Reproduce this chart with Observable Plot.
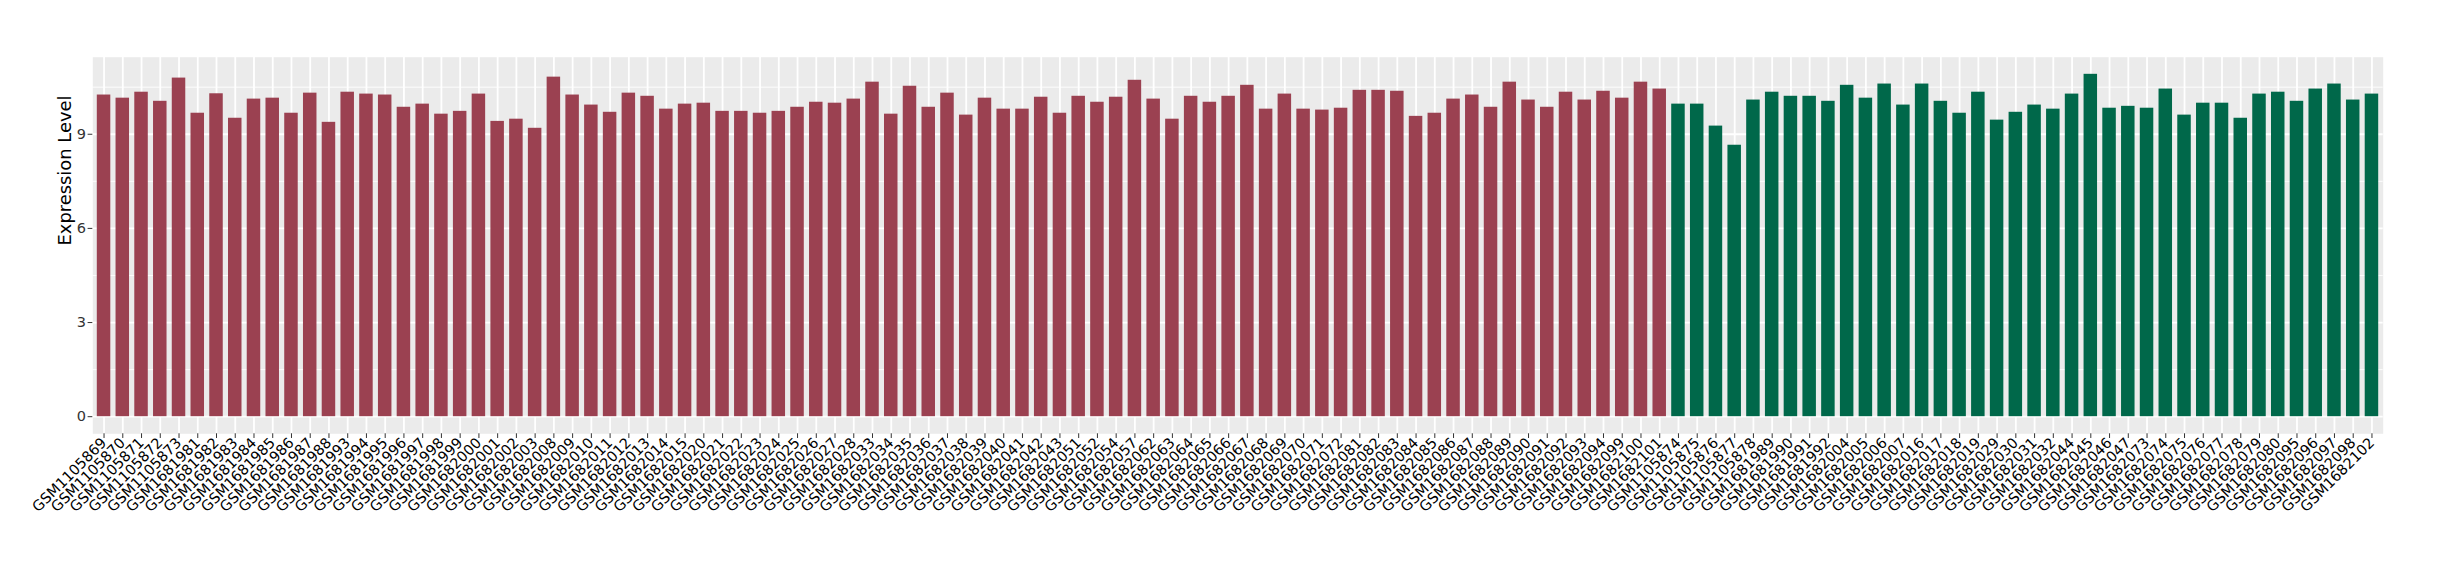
<!DOCTYPE html>
<html><head><meta charset="utf-8">
<script src="https://cdn.jsdelivr.net/npm/d3@7"></script>
<script src="https://cdn.jsdelivr.net/npm/@observablehq/plot@0.6"></script>
<style>body{margin:0;background:#fff}</style>
</head><body><div id="chart"></div>
<script>
const groupA_samples = ["GSM1105869","GSM1105870","GSM1105871","GSM1105872","GSM1105873","GSM1681981","GSM1681982","GSM1681983","GSM1681984","GSM1681985","GSM1681986","GSM1681987","GSM1681988","GSM1681993","GSM1681994","GSM1681995","GSM1681996","GSM1681997","GSM1681998","GSM1681999","GSM1682000","GSM1682001","GSM1682002","GSM1682003","GSM1682008","GSM1682009","GSM1682010","GSM1682011","GSM1682012","GSM1682013","GSM1682014","GSM1682015","GSM1682020","GSM1682021","GSM1682022","GSM1682023","GSM1682024","GSM1682025","GSM1682026","GSM1682027","GSM1682028","GSM1682033","GSM1682034","GSM1682035","GSM1682036","GSM1682037","GSM1682038","GSM1682039","GSM1682040","GSM1682041","GSM1682042","GSM1682043","GSM1682051","GSM1682052","GSM1682054","GSM1682057","GSM1682062","GSM1682063","GSM1682064","GSM1682065","GSM1682066","GSM1682067","GSM1682068","GSM1682069","GSM1682070","GSM1682071","GSM1682072","GSM1682081","GSM1682082","GSM1682083","GSM1682084","GSM1682085","GSM1682086","GSM1682087","GSM1682088","GSM1682089","GSM1682090","GSM1682091","GSM1682092","GSM1682093","GSM1682094","GSM1682099","GSM1682100","GSM1682101"];
const groupA_values = [10.25,10.15,10.34,10.05,10.79,9.67,10.29,9.51,10.12,10.15,9.67,10.31,9.38,10.34,10.28,10.25,9.86,9.96,9.64,9.73,10.28,9.41,9.48,9.19,10.82,10.25,9.93,9.70,10.31,10.21,9.80,9.96,9.99,9.73,9.73,9.67,9.73,9.86,10.02,9.99,10.12,10.66,9.64,10.53,9.86,10.31,9.61,10.15,9.80,9.80,10.18,9.67,10.21,10.02,10.18,10.72,10.12,9.48,10.21,10.02,10.21,10.56,9.80,10.28,9.80,9.77,9.83,10.40,10.40,10.37,9.57,9.67,10.12,10.25,9.86,10.66,10.09,9.86,10.34,10.09,10.37,10.15,10.66,10.44];
const groupB_samples = ["GSM1105874","GSM1105875","GSM1105876","GSM1105877","GSM1105878","GSM1681989","GSM1681990","GSM1681991","GSM1681992","GSM1682004","GSM1682005","GSM1682006","GSM1682007","GSM1682016","GSM1682017","GSM1682018","GSM1682019","GSM1682029","GSM1682030","GSM1682031","GSM1682032","GSM1682044","GSM1682045","GSM1682046","GSM1682047","GSM1682073","GSM1682074","GSM1682075","GSM1682076","GSM1682077","GSM1682078","GSM1682079","GSM1682080","GSM1682095","GSM1682096","GSM1682097","GSM1682098","GSM1682102"];
const groupB_values = [9.96,9.96,9.26,8.65,10.09,10.34,10.21,10.21,10.05,10.56,10.15,10.60,9.93,10.60,10.05,9.67,10.34,9.45,9.70,9.93,9.80,10.28,10.91,9.83,9.89,9.83,10.44,9.61,9.99,9.99,9.51,10.28,10.34,10.05,10.44,10.60,10.09,10.28];
const groupNames = ["A","B"];
const groupColors = ["#9b4151","#00684a"];
const yTicks = [0,3,6,9];
const yMinor = [1.5,4.5,7.5,10.5];
const yTitle = "Expression Level";

const data = [
  ...groupA_samples.map((s,i)=>({sample:s, value:groupA_values[i], group:"A"})),
  ...groupB_samples.map((s,i)=>({sample:s, value:groupB_values[i], group:"B"}))
];
const samples = data.map(d=>d.sample);
const vmax = d3.max(data, d=>d.value);

const chart = Plot.plot({
  width: 2440, height: 580,
  marginLeft: 92.3, marginRight: 57.3, marginTop: 56.7, marginBottom: 146.7,
  style: {fontFamily: "DejaVu Sans", background: "#fff", color: "#333"},
  x: {domain: samples, paddingInner: 0.28, paddingOuter: 0.24, label: null},
  y: {domain: [-0.05*vmax, 1.05*vmax], label: null},
  color: {domain: groupNames, range: groupColors},
  marks: [
    Plot.frame({fill: "#EBEBEB", stroke: null}),
    Plot.gridY(yMinor, {stroke: "#fff", strokeOpacity: 1, strokeWidth: 0.9}),
    Plot.gridY(yTicks, {stroke: "#fff", strokeOpacity: 1, strokeWidth: 1.8}),
    Plot.gridX({stroke: "#fff", strokeOpacity: 1, strokeWidth: 1.8}),
    Plot.barY(data, {x: "sample", y: "value", fill: "group"}),
    Plot.axisY(yTicks, {tickSize: 4.7, tickPadding: 2, fontSize: 14.5, label: null, fill: "#333", stroke: "#333"}),
    Plot.axisX({tickRotate: -45, tickSize: 4.7, tickPadding: 2, fontSize: 14.5, label: null, fill: "#000", stroke: "#333"}),
    Plot.text([yTitle], {frameAnchor: "left", dx: -27.3, rotate: -90, fontSize: 17.9, fill: "#000"})
  ]
});
document.getElementById("chart").appendChild(chart);
</script>
</body></html>
